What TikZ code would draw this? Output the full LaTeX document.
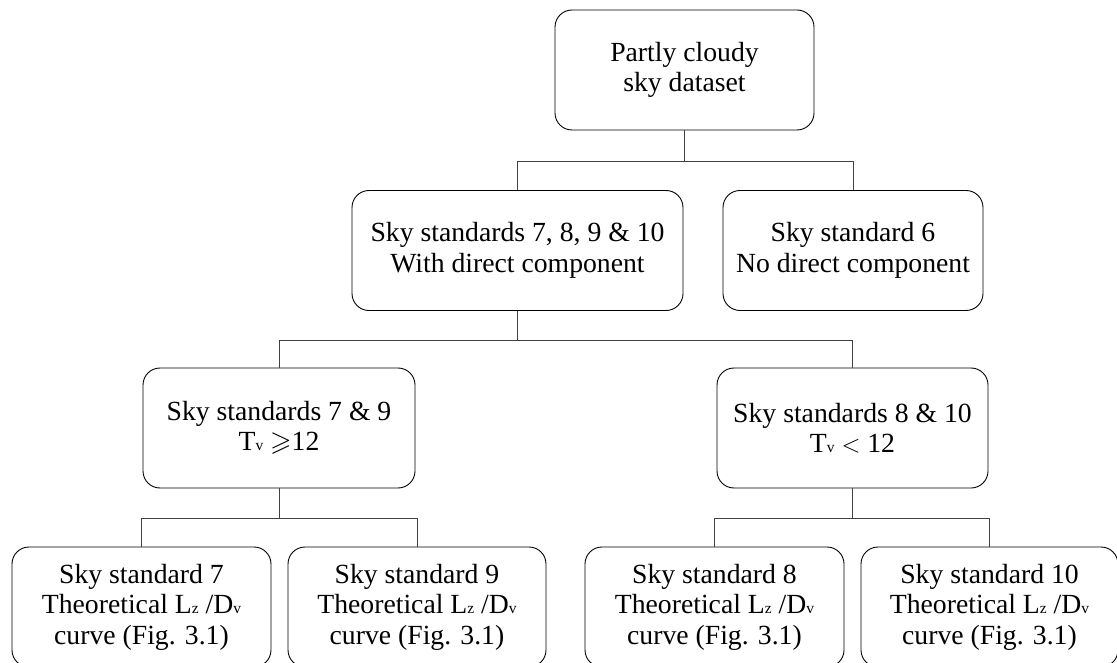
\documentclass[tikz,border=0pt]{standalone}
\usepackage{fontspec}
\usepackage{amssymb}
\setmainfont{Liberation Serif}
\newcommand\smallsub[1]{{\fontsize{15.5}{15.5}\selectfont #1}}
\begin{document}
\begin{tikzpicture}[x=1pt,y=-1pt,
  box/.style={draw=black, line width=0.9pt, rounded corners=17pt,
    inner sep=0pt, align=center, minimum height=120pt,
    font=\fontsize{27.7}{30.5}\selectfont},
  link/.style={draw=black!75, line width=0.9pt}]
\useasboundingbox (0,0) rectangle (1117,663);
\clip (0,0) rectangle (1117,663);

% root
\node[box, minimum width=259pt] (root) at (684.5,70) {Partly cloudy\\sky dataset};

% second level
\node[box, minimum width=331pt] (direct) at (517.5,250.5) {Sky standards 7, 8, 9 \& 10\\With direct component};
\node[box, minimum width=260pt] (nodirect) at (853,250.5) {Sky standard 6\\No direct component};

% third level
\node[box, minimum width=272pt] (high) at (279,428) {Sky standards 7 \& 9\\T\smallsub{v} $\geqslant$12};
\node[box, minimum width=271pt] (low) at (852.5,428) {Sky standards 8 \& 10\\T\smallsub{v} $<$ 12};

% leaves
\node[box, minimum width=259pt] (s7) at (141.5,607) {Sky standard 7\\Theoretical L\smallsub{z} /D\smallsub{v}\\curve (Fig. 3.1)};
\node[box, minimum width=258pt] (s9) at (417,607) {Sky standard 9\\Theoretical L\smallsub{z} /D\smallsub{v}\\curve (Fig. 3.1)};
\node[box, minimum width=259pt] (s8) at (714.5,607) {Sky standard 8\\Theoretical L\smallsub{z} /D\smallsub{v}\\curve (Fig. 3.1)};
\node[box, minimum width=257pt] (s10) at (989.5,607) {Sky standard 10\\Theoretical L\smallsub{z} /D\smallsub{v}\\curve (Fig. 3.1)};

% branch points
\coordinate (b1) at ([yshift=-31pt]root.south);
\coordinate (b2) at ([yshift=-29pt]direct.south);
\coordinate (b3) at ([yshift=-30pt]high.south);
\coordinate (b4) at ([yshift=-30pt]low.south);

% connectors
\draw[link] (root.south) -- (b1);
\draw[link] (b1) -| (direct.north);
\draw[link] (b1) -| (nodirect.north);
\draw[link] (direct.south) -- (b2);
\draw[link] (b2) -| (high.north);
\draw[link] (b2) -| (low.north);
\draw[link] (high.south) -- (b3);
\draw[link] (b3) -| (s7.north);
\draw[link] (b3) -| (s9.north);
\draw[link] (low.south) -- (b4);
\draw[link] (b4) -| (s8.north);
\draw[link] (b4) -| (s10.north);
\end{tikzpicture}
\end{document}
